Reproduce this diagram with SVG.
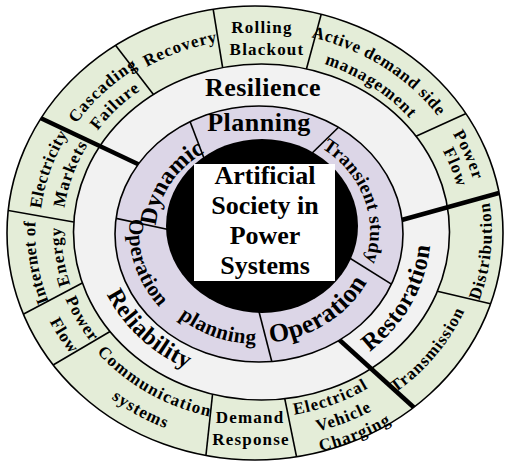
<svg xmlns="http://www.w3.org/2000/svg" width="505" height="462" viewBox="0 0 505 462">
<defs>
<style>
  text { font-family: "Liberation Serif", "Times New Roman", serif; font-weight: bold; fill: #000; text-anchor: middle; }
  .ring { stroke: #000; stroke-width: 1.6; fill: none; }
  .div { stroke: #000; stroke-width: 1.6; }
  .thick { stroke: #000; stroke-width: 4.5; }
  .g { font-size: 17px; letter-spacing: 1px; }
  .tight { letter-spacing: 0.4px; }
  .w { font-size: 24px; letter-spacing: 0.5px; }
  .p { font-size: 24px; letter-spacing: 0.5px; }
  .c { font-size: 26px; }
</style>
<clipPath id="clipOuter"><ellipse cx="255" cy="233" rx="248" ry="227"/></clipPath>
<clipPath id="clipPurple"><ellipse cx="259" cy="234" rx="144" ry="128"/></clipPath>

<!-- baselines for curved labels (clockwise = upright on top, counter-clockwise = upright on bottom) -->
<path id="pCascading" d="M50.2,289.7 A217.25,197.5 0 0 1 306.9,39.6"/>
<path id="pFailure" d="M72.3,286.8 A195.25,177.5 0 0 1 298.6,58.4"/>
<path id="pRecovery" d="M47,206.7 A212.85,193.5 0 0 1 387.6,78.5"/>
<path id="pActive" d="M168.3,48.8 A220.55,200.5 0 0 1 477.3,253"/>
<path id="pManagement" d="M181.3,67.7 A196.35,178.5 0 0 1 452.9,253.8"/>
<path id="pPowerR" d="M294.8,32.3 A222.75,202.5 0 0 1 429.9,360.8"/>
<path id="pFlowR" d="M298.9,49.2 A205.15,186.5 0 0 1 411.7,355.6"/>
<path id="pDistribution" d="M356.8,424.6 A233.75,212.5 0 0 0 392.1,57.9"/>
<path id="pTransmission" d="M236.2,434.5 A223.85,203.5 0 0 0 461.9,147.9"/>
<path id="pElectrical" d="M134.9,380 A204.05,185.5 0 0 0 460.5,254.9"/>
<path id="pVehicle" d="M125.1,399.5 A227.15,206.5 0 0 0 484,252.9"/>
<path id="pCharging" d="M115.1,417.5 A249.15,226.5 0 0 0 506.2,251.8"/>
<path id="pCommunication" d="M49.9,220.4 A208.45,189.5 0 0 0 351,401.6"/>
<path id="pSystems" d="M23.4,222.3 A234.85,213.5 0 0 0 366.1,421.5"/>
<path id="pPowerL" d="M85.2,129.6 A206.25,187.5 0 0 0 246.8,419.2"/>
<path id="pFlowL" d="M60.9,123.5 A230.45,209.5 0 0 0 253.2,441.5"/>
<path id="pInternet" d="M174.6,419.8 A222.75,202.5 0 0 1 120.9,72.4"/>
<path id="pEnergy" d="M181.9,396.6 A196.35,178.5 0 0 1 139.3,89.8"/>
<path id="pElectricity" d="M98.3,367.4 A218.35,198.5 0 0 1 208.9,38.6"/>
<path id="pMarkets" d="M114,351.9 A195.25,177.5 0 0 1 215.7,58.7"/>
<path id="pRestoration" d="M270.1,388.6 A172.7,157 0 0 0 401.2,144.2"/>
<path id="pReliability" d="M99.2,187.6 A166.1,151 0 0 0 295.1,379.2"/>
<path id="pDynamic" d="M169.4,278.5 A102.3,93 0 0 1 258,139"/>
<path id="pTransient" d="M280.4,132.1 A112.2,102 0 0 1 342,299.6"/>
<path id="pOperationR" d="M208.3,333.4 A122.1,111 0 0 0 379.4,220.4"/>
<path id="pOperationL" d="M165.4,150.7 A128.7,117 0 0 0 226.9,345.5"/>
<path id="pPlanning" d="M136.1,248.2 A123.2,112 0 0 0 334.4,319.9"/>
</defs>

<!-- outer ring: applications -->
<g id="outer-ring">
  <ellipse cx="255" cy="233" rx="248" ry="227" fill="#e4edd8"/>
  <g clip-path="url(#clipOuter)">
    <line class="div" x1="113" y1="42" x2="160" y2="103"/>
    <line class="div" x1="212" y1="2" x2="224" y2="76"/>
    <line class="div" x1="324" y1="4" x2="304" y2="78"/>
    <line class="div" x1="476" y1="109" x2="410" y2="139"/>
    <line class="div" x1="432" y1="290" x2="500" y2="306"/>
    <line class="div" x1="283" y1="390" x2="298" y2="464"/>
    <line class="div" x1="213" y1="390" x2="205" y2="464"/>
    <line class="div" x1="116" y1="328" x2="48" y2="368"/>
    <line class="div" x1="88" y1="280" x2="18" y2="317"/>
    <line class="div" x1="0" y1="209" x2="85" y2="224"/>
  </g>
</g>

<!-- middle ring: Resilience / Restoration / Reliability -->
<g id="middle-ring">
  <ellipse cx="261.5" cy="232" rx="188" ry="168" fill="#f2f2f2"/>
  <g clip-path="url(#clipOuter)">
    <line class="thick" x1="32" y1="114" x2="142" y2="166"/>
    <line class="thick" x1="506" y1="191" x2="398" y2="221"/>
    <line class="thick" x1="420" y1="413" x2="334" y2="335"/>
  </g>
</g>

<!-- inner ring: Planning / Transient study / Operation / Operation planning / Dynamic -->
<g id="inner-ring">
  <ellipse cx="259" cy="234" rx="144" ry="128" fill="#dcd6e7"/>
  <g clip-path="url(#clipPurple)">
    <line class="div" x1="183" y1="103" x2="210" y2="174"/>
    <line class="div" x1="347" y1="119" x2="305" y2="160"/>
    <line class="div" x1="404" y1="292" x2="340" y2="252"/>
    <line class="div" x1="275" y1="374" x2="256" y2="300"/>
    <line class="div" x1="100" y1="215" x2="180" y2="232"/>
  </g>
</g>

<!-- ring outlines -->
<g id="outlines">
  <ellipse class="ring" cx="255" cy="233" rx="248" ry="227"/>
  <ellipse class="ring" cx="261.5" cy="232" rx="188" ry="168"/>
  <ellipse class="ring" cx="259" cy="234" rx="144" ry="128"/>
</g>

<!-- core -->
<g id="core">
  <ellipse cx="262" cy="226" rx="96" ry="87" fill="#000"/>
  <rect x="194" y="164" width="141" height="117" fill="#fff"/>
  <text class="c" x="265" y="184">Artificial</text>
  <text class="c" x="265" y="214">Society in</text>
  <text class="c" x="265" y="244">Power</text>
  <text class="c" x="265" y="274">Systems</text>
</g>

<!-- outer ring labels -->
<g id="outer-labels">
  <text class="g"><textPath href="#pCascading" startOffset="50%">Cascading</textPath></text>
  <text class="g"><textPath href="#pFailure" startOffset="50%">Failure</textPath></text>
  <text class="g"><textPath href="#pRecovery" startOffset="50%">Recovery</textPath></text>
  <text class="g" x="262" y="33" style="letter-spacing:1.2px">Rolling</text>
  <text class="g" x="267" y="55" style="letter-spacing:1.2px">Blackout</text>
  <text class="g" style="letter-spacing:0.6px"><textPath href="#pActive" startOffset="50%">Active demand side</textPath></text>
  <text class="g"><textPath href="#pManagement" startOffset="50%">management</textPath></text>
  <text class="g"><textPath href="#pPowerR" startOffset="50%">Power</textPath></text>
  <text class="g"><textPath href="#pFlowR" startOffset="50%">Flow</textPath></text>
  <text class="g"><textPath href="#pDistribution" startOffset="50%">Distribution</textPath></text>
  <text class="g"><textPath href="#pTransmission" startOffset="50%">Transmission</textPath></text>
  <text class="g"><textPath href="#pElectrical" startOffset="50%">Electrical</textPath></text>
  <text class="g"><textPath href="#pVehicle" startOffset="50%">Vehicle</textPath></text>
  <text class="g"><textPath href="#pCharging" startOffset="50%">Charging</textPath></text>
  <text class="g" x="250" y="423" style="letter-spacing:1.2px">Demand</text>
  <text class="g" x="251" y="445" style="letter-spacing:1.2px">Response</text>
  <text class="g" style="letter-spacing:1.2px"><textPath href="#pCommunication" startOffset="50%">Communication</textPath></text>
  <text class="g"><textPath href="#pSystems" startOffset="50%">systems</textPath></text>
  <text class="g"><textPath href="#pPowerL" startOffset="50%">Power</textPath></text>
  <text class="g"><textPath href="#pFlowL" startOffset="50%">Flow</textPath></text>
  <text class="g tight"><textPath href="#pInternet" startOffset="50%">Internet of</textPath></text>
  <text class="g"><textPath href="#pEnergy" startOffset="50%">Energy</textPath></text>
  <text class="g tight"><textPath href="#pElectricity" startOffset="50%">Electricity</textPath></text>
  <text class="g"><textPath href="#pMarkets" startOffset="50%">Markets</textPath></text>
</g>

<!-- middle ring labels -->
<g id="middle-labels">
  <text class="w" x="263" y="96" style="font-size:26px">Resilience</text>
  <text class="w"><textPath href="#pRestoration" startOffset="50%">Restoration</textPath></text>
  <text class="w"><textPath href="#pReliability" startOffset="50%">Reliability</textPath></text>
</g>

<!-- inner ring labels -->
<g id="inner-labels">
  <text class="p" x="259" y="131" style="font-size:26px">Planning</text>
  <text class="p" style="letter-spacing:0"><textPath href="#pDynamic" startOffset="50%">Dynamic</textPath></text>
  <text class="p" style="font-size:19px;letter-spacing:0.3px"><textPath href="#pTransient" startOffset="50%">Transient study</textPath></text>
  <text class="p" style="font-size:26px"><textPath href="#pOperationR" startOffset="50%">Operation</textPath></text>
  <text class="p" style="font-size:21px"><textPath href="#pOperationL" startOffset="50%">Operation</textPath></text>
  <text class="p" style="font-size:21px"><textPath href="#pPlanning" startOffset="50%">planning</textPath></text>
</g>
</svg>
